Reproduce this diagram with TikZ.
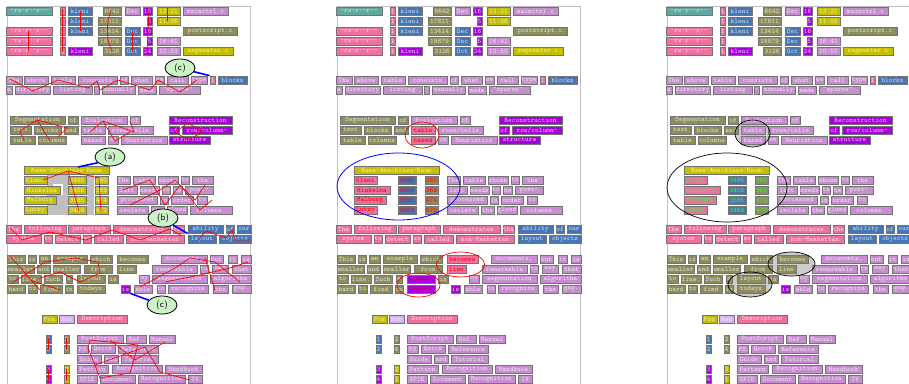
\documentclass[tikz,border=0pt]{standalone}
\usepackage{tikz}
\usetikzlibrary{positioning, shapes.geometric}

\definecolor{cT}{RGB}{96,168,160}
\definecolor{cP}{RGB}{236,112,160}
\definecolor{cB}{RGB}{72,118,178}
\definecolor{cO}{RGB}{140,140,92}
\definecolor{cL}{RGB}{198,142,206}
\definecolor{cV}{RGB}{168,0,220}
\definecolor{cY}{RGB}{198,190,0}
\definecolor{cN}{RGB}{212,176,242}
\definecolor{tagGreen}{RGB}{204,242,200}
\definecolor{hitGreen}{RGB}{80,230,80}

\newcommand{\wfont}{\fontsize{7}{8}\selectfont\ttfamily}
\newcommand{\tagfont}{\fontsize{9}{10}\selectfont\sffamily}

\tikzset{
	wb/.style={draw=black!55, line width=0.8pt, inner sep=0pt, minimum height=8pt, font=\wfont},
	wT/.style={fill=cT, text=cT!25!white},
	wP/.style={fill=cP, text=cP!25!white},
	wB/.style={fill=cB, text=cB!25!white},
	wO/.style={fill=cO, text=cO!25!white},
	wL/.style={fill=cL, text=cL!25!white},
	wV/.style={fill=cV, text=cV!25!white},
	wY/.style={fill=cY, text=cY!25!white},
	wN/.style={fill=cN, text=cN!25!white},
	tN/.style={wY}, tA/.style={wY}, tC/.style={wY},
	hE/.style={wL}, hB/.style={wO}, hL/.style={wO},
	zig/.style={red, line width=0.7pt},
	pointer/.style={blue, line width=1.6pt},
	tag/.style={ellipse, draw=black, line width=0.8pt, fill=tagGreen, minimum width=30pt, minimum height=18pt, inner sep=0pt, font=\tagfont},
	frame/.style={draw=black!25, line width=0.8pt},
}

\newcommand{\wordrow}[2]{%
	\foreach \xa/\xb/\st/\tx in {#2}
		\node[wb, \st, minimum width={(\xb-\xa)*1pt}] (w\xa-#1) at ({(\xa+\xb)/2}, #1) {\tx};
}

\newcommand{\pagecontent}{%
	% directory listing
	\wordrow{11}{6/52/wT/-rw-r--r--, 60/65/wP/1, 68/92/wB/kleni, 103/121/wO/6642, 125/140/wL/Dec, 143/152/wV/16, 157/180/wY/13:21, 183/228/wL/mainctrl.c}
	\wordrow{21}{60/65/wP/1, 68/92/wB/kleni, 98/121/wO/17811, 147/152/wV/5, 157/180/wY/11:06}
	\wordrow{31}{6/52/wP/-rw-r--r--, 60/65/wP/1, 68/92/wB/kleni, 98/121/wO/13414, 125/140/wB/Dec, 143/152/wV/16, 183/237/wO/postscript.c}
	\wordrow{41}{6/52/wP/-rw-r--r--, 60/65/wP/1, 98/121/wO/18879, 125/140/wB/Dec, 147/152/wV/5, 157/180/wL/16:41}
	\wordrow{51}{6/52/wP/-rw-r--r--, 60/65/wP/1, 68/92/wV/kleni, 103/121/wO/3128, 125/140/wB/Oct, 143/152/wV/24, 157/180/wL/10:50, 183/233/wY/segmenter.c}
	% first paragraph
	\wordrow{80}{6/22/wL/The, 24/48/wL/above, 51/75/wL/table, 78/117/wL/consists, 120/128/wL/of, 131/152/wL/what, 155/164/wL/we, 167/188/wL/call, 191/207/wL/type, 210/215/wP/1, 218/247/wB/blocks}
	\wordrow{90}{6/12/wL/a, 15/50/wL/directory, 53/92/wL/listing, 94/99/wL/-, 102/135/wL/manually, 138/156/wL/made, 159/200/wL/"sparse".}
	% three columns
	\wordrow{120}{10/65/wO/Segmentation, 68/78/wO/of, 81/127/wL/Evaluation, 130/140/wL/of, 169/232/wV/Reconstruction}
	\wordrow{130}{10/31/wO/text, 34/61/wO/blocks, 64/78/wO/and, 81/105/hE/table, 108/153/wL/{rows/cells}, 169/179/wV/of, 182/232/wV/{row/column-}}
	\wordrow{140}{10/35/wO/table, 38/66/wO/columns, 81/105/hE/based, 108/118/wL/on, 121/167/wL/Heuristics, 169/210/wV/structure}
	% table and text beside it
	\wordrow{170}{24/109/wY/Name-Anschluss-Raum}
	\wordrow{180}{24/47/tN/Klemi, 68/86/tA/3485, 95/108/tC/380, 117/130/wL/The, 133/155/wL/table, 158/178/wL/shown, 181/189/wL/to, 192/213/wL/the}
	\wordrow{190}{24/60/tN/Hinkelma, 68/86/tA/3456, 95/108/tC/369, 117/137/wL/left, 140/159/wL/needs, 162/170/wL/to, 173/182/wL/be, 185/213/wL/post-}
	\wordrow{200}{24/56/tN/Malburg, 68/86/tA/3585, 95/108/tC/474, 117/157/wL/processed, 160/168/wL/in, 171/193/wL/order, 197/207/wL/to}
	\wordrow{210}{24/47/tN/Lutzy, 68/86/tA/3464, 95/108/tC/470, 117/148/wL/isolate, 151/164/wL/the, 167/187/wL/glued, 190/232/wL/columns.}
	% non-Manhattan paragraph
	\wordrow{229}{6/21/wP/The, 24/66/wP/following, 68/110/wP/paragraph, 113/170/wP/demonstrates, 173/184/wP/the, 188/223/wB/ability, 226/234/wB/of, 237/251/wB/our}
	\wordrow{239}{6/41/wP/system, 44/52/wP/to, 55/80/wP/detect, 83/91/wP/so, 94/123/wP/called, 126/184/wP/non-Manhattan, 188/216/wB/layout, 219/251/wB/objects}
	\wordrow{259}{7/25/wO/This, 28/36/wO/is, 39/50/wO/an, 53/87/wO/example, 90/112/wO/which, 117/148/hB/becomes, 161/207/wL/{documents,}, 210/223/wL/but, 228/237/wL/it, 241/251/wL/is}
	\wordrow{269}{7/34/wO/smaller, 37/50/wO/and, 53/80/wO/smaller, 84/112/wO/from, 117/136/hB/line, 152/197/wL/remarkable, 200/208/wL/to, 212/228/wL/say, 232/251/wL/that}
	\wordrow{279}{7/18/wO/to, 21/41/wO/line., 44/62/wO/Such, 66/72/wO/a, 77/105/hL/layout, 108/118/wO/is, 139/149/wL/my, 152/207/wL/segmentation, 210/251/wL/algorithm}
	\wordrow{289}{7/25/wO/hard, 28/37/wO/to, 40/62/wO/find, 65/73/wO/in, 77/105/hL/todays, 121/130/wV/is, 134/152/wL/able, 157/165/wL/to, 168/208/wL/recognize, 213/228/wL/the, 232/251/wL/gap.}
	% bibliography table
	\wordrow{319}{42/57/wY/Pos, 59/74/wN/Nmb, 77/127/wP/Description}
	\wordrow{339}{46/51/wB/1, 64/69/wO/2, 77/123/wL/PostScript, 126/146/wL/Ref., 149/175/wL/Manual}
	\wordrow{349}{46/51/wB/2, 64/69/wO/4, 77/88/wL/PS, 91/115/wL/Quick, 118/158/wL/Reference}
	\wordrow{359}{77/101/wL/Guide, 104/118/wL/and, 121/158/wL/Tutorial}
	\wordrow{369}{46/51/wV/3, 64/69/wY/2, 77/108/wL/Pattern, 112/162/wL/Recognition, 165/202/wL/Handbook}
	\wordrow{379}{46/51/wV/4, 64/69/wY/1, 77/97/wL/SPIE, 100/135/wL/Document, 138/185/wL/Recognition, 188/202/wL/IV}
}

\begin{document}
\begin{tikzpicture}[x=1pt, y=-1pt]
	\useasboundingbox (0,0) rectangle (909,383);

	% page 1: grouping errors
	\begin{scope}
		\draw[frame] (7,395) -- (7,6) -- (250,6) -- (250,395);
		\fill[black!25] (47,175) rectangle (68,215);
		\fill[black!25] (87,175) rectangle (94,215);
		\fill[white] (53,184) rectangle (63,195);
		\pagecontent
		\draw[zig] (28,31) -- (28,51);
		\draw[zig] (62,9) -- (62,52);
		\draw[zig] (80,11) -- (80,31);
		\draw[zig] (111,10) .. controls (106,25) and (106,40) .. (112,51);
		\draw[zig] (132,31) -- (132,51);
		\draw[zig] (149,10) -- (147,52);
		\draw[zig] (167,8) -- (167,21);
		\draw[zig] (10,79) -- (33,91) -- (58,80) -- (88,88) -- (97,81) -- (100,90) -- (118,80) -- (150,90) -- (158,80) -- (180,92) -- (197,80);
		\draw[zig] (20,131) -- (37,120) -- (67,128) -- (58,137);
		\draw[zig] (37,120) -- (50,141);
		\draw[zig] (20,131) -- (24,141);
		\draw[zig] (90,132) -- (103,121) -- (134,132) -- (130,121);
		\draw[zig] (103,121) -- (115,141) -- (130,132);
		\draw[zig] (175,132) -- (188,123) -- (203,132) -- (188,140) -- cycle;
		\draw[zig] (43,180) -- (68,171) -- (79,211);
		\draw[zig] (68,171) -- (99,178) -- (101,211);
		\draw[zig] (123,190) -- (150,180) -- (165,205) -- (180,185) -- (200,210) -- (212,200);
		\draw[zig] (130,205) -- (160,190) -- (175,180) -- (195,200) -- (205,185);
		\draw[zig] (10,228) -- (22,240) -- (50,232) -- (86,240) -- (112,230) -- (140,240) -- (170,229) -- (182,236);
		\draw[zig] (198,240) -- (206,231) -- (226,238) -- (232,230) -- (235,240) -- (250,240);
		\draw[zig] (10,256) -- (40,290);
		\draw[zig] (12,283) -- (45,262) -- (75,258) -- (98,262) -- (100,273) -- (80,282) -- (60,272) -- (40,278);
		\draw[zig] (30,280) -- (60,290);
		\draw[zig] (140,287) -- (175,268) -- (190,258) -- (215,262) -- (240,282);
		\draw[zig] (165,282) -- (200,275) -- (230,268) -- (248,262);
		\draw[zig] (205,258) -- (215,290);
		\draw[zig] (88,348) -- (100,378) -- (130,373) -- (138,345) -- (90,340) -- cycle;
		\draw[zig] (95,365) -- (145,347) -- (160,372) -- (190,380);
		\draw[zig] (110,340) -- (135,360) -- (165,342);
		\draw[zig] (48,338) -- (48,350);
		\draw[zig] (66,338) -- (66,350);
		\draw[zig] (48,369) -- (48,381);
		\draw[zig] (66,369) -- (66,381);
		\coordinate (pa) at (78,167);
		\node[tag] (lc1) at (180,68) {(c)};
		\node[tag] (la) at (110,157) {(a)};
		\node[tag] (lb) at (163,218) {(b)};
		\node[tag] (lc2) at (162,305) {(c)};
		\draw[pointer] (lc1.-15) -- (w210-80.north west);
		\draw[pointer] (la.205) -- (pa);
		\draw[pointer] (lb.-35) -- (w188-229.south west);
		\draw[pointer] (lc2.160) -- (w121-289.south east);
	\end{scope}

	% page 2: detected regions
	\begin{scope}[xshift=330pt,
		tN/.style={wP, text=red}, tA/.style={wB, text=red}, tC/.style={wO, text=red},
		hE/.style={wP, text=red}, hB/.style={wP, text=red}, hL/.style={wV, text=red}]
		\draw[frame] (7,395) -- (7,6) -- (250,6) -- (250,395);
		\pagecontent
		\draw[red, line width=0.7pt] (92,135) ellipse [x radius=17pt, y radius=13pt];
		\draw[blue, line width=0.8pt] (68.5,186.5) ellipse [x radius=61.5pt, y radius=33.5pt];
		\draw[red, line width=0.7pt] (130.5,264.5) ellipse [x radius=24pt, y radius=12.5pt];
		\draw[red, line width=0.7pt] (88.5,285) ellipse [x radius=21.5pt, y radius=12pt];
	\end{scope}

	% page 3: corrected result
	\begin{scope}[xshift=660pt,
		tN/.style={wP, text=hitGreen}, tA/.style={wB, text=hitGreen}, tC/.style={wO, text=hitGreen}]
		\draw[frame] (7,395) -- (7,6) -- (250,6) -- (250,395);
		\fill[black!20] (92.5,133.5) ellipse [x radius=17.5pt, y radius=13.5pt];
		\fill[black!20] (131.5,264) ellipse [x radius=23.5pt, y radius=12pt];
		\fill[black!20] (90,284.5) ellipse [x radius=22pt, y radius=12.5pt];
		\pagecontent
		\draw[line width=0.7pt] (92.5,133.5) ellipse [x radius=17.5pt, y radius=13.5pt];
		\draw[line width=0.7pt] (67,187.5) ellipse [x radius=60pt, y radius=34.5pt];
		\draw[line width=0.7pt] (131.5,264) ellipse [x radius=23.5pt, y radius=12pt];
		\draw[line width=0.7pt] (90,284.5) ellipse [x radius=22pt, y radius=12.5pt];
	\end{scope}
\end{tikzpicture}
\end{document}
